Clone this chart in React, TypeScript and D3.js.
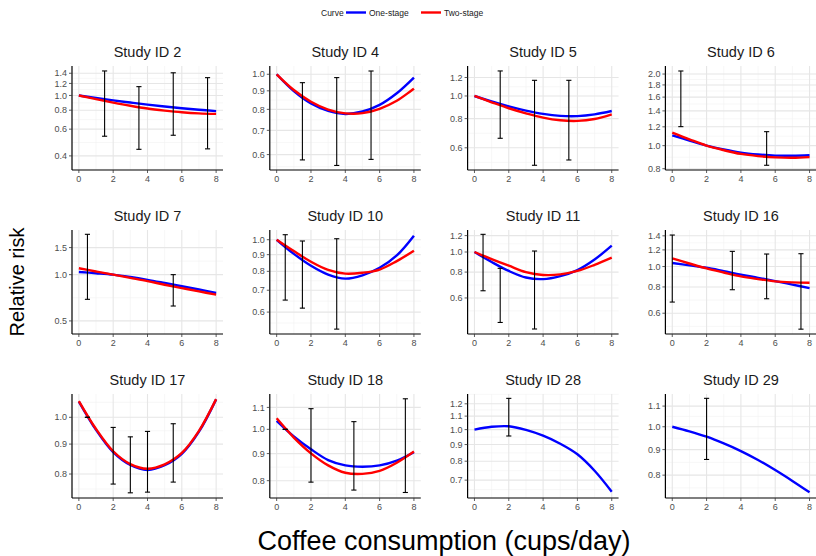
import React from "react";
import * as d3 from "d3";

const studyIds = ["Study ID 2", "Study ID 4", "Study ID 5", "Study ID 6", "Study ID 7", "Study ID 10", "Study ID 11", "Study ID 16", "Study ID 17", "Study ID 18", "Study ID 28", "Study ID 29"];
const doseX = [0, 1, 2, 3, 4, 5, 6, 7, 8];

const oneStageRR: number[][] = [
  [1.0, 0.962, 0.928, 0.898, 0.87, 0.846, 0.824, 0.805, 0.789],
  [1.0, 0.898, 0.83, 0.792, 0.777, 0.789, 0.823, 0.886, 0.979],
  [1.0, 0.948, 0.903, 0.866, 0.838, 0.822, 0.82, 0.834, 0.862],
  [1.105, 1.05, 1.0, 0.964, 0.935, 0.918, 0.908, 0.907, 0.911],
  [1.041, 1.022, 1.0, 0.965, 0.925, 0.882, 0.84, 0.8, 0.76],
  [1.0, 0.905, 0.832, 0.782, 0.76, 0.778, 0.82, 0.895, 1.029],
  [1.0, 0.895, 0.81, 0.753, 0.74, 0.765, 0.818, 0.92, 1.073],
  [1.039, 1.013, 0.987, 0.951, 0.915, 0.884, 0.853, 0.821, 0.79],
  [1.064, 0.952, 0.872, 0.829, 0.813, 0.828, 0.866, 0.945, 1.073],
  [1.038, 0.97, 0.917, 0.875, 0.855, 0.85, 0.855, 0.873, 0.905],
  [1.0, 1.02, 1.024, 0.998, 0.958, 0.905, 0.84, 0.748, 0.645],
  [1.0, 0.979, 0.955, 0.926, 0.894, 0.858, 0.819, 0.779, 0.739],
];

const twoStageRR: number[][] = [
  [1.0, 0.945, 0.897, 0.855, 0.82, 0.795, 0.775, 0.762, 0.756],
  [1.0, 0.905, 0.84, 0.799, 0.78, 0.781, 0.803, 0.845, 0.913],
  [1.0, 0.94, 0.886, 0.843, 0.808, 0.787, 0.782, 0.797, 0.835],
  [1.134, 1.063, 1.0, 0.957, 0.923, 0.904, 0.893, 0.889, 0.895],
  [1.1, 1.049, 1.0, 0.953, 0.908, 0.86, 0.818, 0.778, 0.741],
  [1.0, 0.923, 0.856, 0.808, 0.787, 0.792, 0.81, 0.86, 0.925],
  [1.0, 0.925, 0.859, 0.8, 0.775, 0.78, 0.81, 0.867, 0.939],
  [1.093, 1.034, 0.98, 0.937, 0.898, 0.872, 0.85, 0.841, 0.838],
  [1.066, 0.955, 0.875, 0.832, 0.817, 0.831, 0.869, 0.948, 1.074],
  [1.049, 0.965, 0.901, 0.855, 0.828, 0.824, 0.835, 0.865, 0.908],
  [],
  [],
];

const ciDose: number[][] = [
  [1.5, 3.5, 5.5, 7.5],
  [1.5, 3.5, 5.5],
  [1.5, 3.5, 5.5],
  [0.5, 5.5],
  [0.5, 5.5],
  [0.5, 1.5, 3.5],
  [0.5, 1.5, 3.5],
  [0, 3.5, 5.5, 7.5],
  [0.5, 2, 3, 4, 5.5],
  [0.5, 2, 4.5, 7.5],
  [2],
  [2],
];
const ciLower: number[][] = [
  [0.539, 0.442, 0.547, 0.445],
  [0.58, 0.56, 0.582],
  [0.659, 0.505, 0.532],
  [1.202, 0.827],
  [0.691, 0.625],
  [0.653, 0.617, 0.532],
  [0.65, 0.457, 0.425],
  [0.678, 0.776, 0.703, 0.504],
  [1.0, 0.769, 0.743, 0.745, 0.775],
  [1.0, 0.795, 0.768, 0.76],
  [0.956],
  [0.86],
];
const ciUpper: number[][] = [
  [1.45, 1.143, 1.41, 1.31],
  [0.948, 0.979, 1.021],
  [1.28, 1.167, 1.167],
  [2.06, 1.145],
  [1.83, 1.0],
  [1.036, 0.991, 1.007],
  [1.217, 0.834, 1.011],
  [1.412, 1.181, 1.147, 1.151],
  [1.0, 0.961, 0.926, 0.946, 0.975],
  [1.0, 1.094, 1.034, 1.142],
  [1.247],
  [1.14],
];

const yLimits: [number, number][] = [
  [0.323, 1.563],
  [0.544, 1.054],
  [0.482, 1.344],
  [0.79, 2.162],
  [0.411, 1.952],
  [0.514, 1.071],
  [0.402, 1.277],
  [0.478, 1.492],
  [0.728, 1.096],
  [0.742, 1.166],
  [0.617, 1.286],
  [0.72, 1.163],
];
const yTicks: number[][] = [
  [0.4, 0.6, 0.8, 1.0, 1.2, 1.4],
  [0.6, 0.7, 0.8, 0.9, 1.0],
  [0.6, 0.8, 1.0, 1.2],
  [0.8, 1.0, 1.2, 1.4, 1.6, 1.8, 2.0],
  [0.5, 1.0, 1.5],
  [0.6, 0.7, 0.8, 0.9, 1.0],
  [0.6, 0.8, 1.0, 1.2],
  [0.6, 0.8, 1.0, 1.2, 1.4],
  [0.8, 0.9, 1.0],
  [0.8, 0.9, 1.0, 1.1],
  [0.7, 0.8, 0.9, 1.0, 1.1, 1.2],
  [0.8, 0.9, 1.0, 1.1],
];
const xTicks = [0, 2, 4, 6, 8];
const xMinorTicks = [1, 3, 5, 7];
const legendTitle = "Curve";
const legendLabels = ["One-stage", "Two-stage"];
const curveColors = ["#0000ff", "#ff0000"];
const yTitle = "Relative risk";
const xTitle = "Coffee consumption (cups/day)";

const W = 816;
const H = 556;
const FONT = "'Liberation Sans', Arial, Helvetica, sans-serif";
const panelW = 151;
const panelH = 104;
const colLeft = (c: number) => 72 + c * 197.8;
const rowTop = (r: number) => 66 + r * 164;

function minorBreaks(ticks: number[], lim: [number, number]) {
  const b = ticks.map(Math.log);
  const bd = b[1] - b[0];
  const lo = Math.log(lim[0]);
  const hi = Math.log(lim[1]);
  const ext = [...b];
  if (lo < b[0]) ext.unshift(b[0] - bd);
  if (hi > b[b.length - 1]) ext.push(b[b.length - 1] + bd);
  const out: number[] = [];
  for (let i = 0; i < ext.length - 1; i++) {
    const m = (ext[i] + ext[i + 1]) / 2;
    if (m >= lo && m <= hi) out.push(Math.exp(m));
  }
  return out;
}

function Panel({ i }: { i: number }) {
  const c = i % 4;
  const r = Math.floor(i / 4);
  const left = colLeft(c);
  const top = rowTop(r);
  const x = d3.scaleLinear().domain([-0.4, 8.4]).range([left, left + panelW]);
  const y = d3.scaleLog().domain(yLimits[i]).range([top + panelH, top]);
  const line = d3
    .line<[number, number]>()
    .x((d) => x(d[0]))
    .y((d) => y(d[1]))
    .curve(d3.curveCatmullRom.alpha(0.5));
  const fmt = d3.format(".1f");
  const minors = minorBreaks(yTicks[i], yLimits[i]);
  const series = [oneStageRR[i], twoStageRR[i]];
  const capHalf = 0.15;
  return (
    <g>
      {xMinorTicks.map((t) => (
        <line key={"xm" + t} x1={x(t)} x2={x(t)} y1={top} y2={top + panelH} stroke="#f2f2f2" strokeWidth={0.6} />
      ))}
      {minors.map((t, k) => (
        <line key={"ym" + k} x1={left} x2={left + panelW} y1={y(t)} y2={y(t)} stroke="#f2f2f2" strokeWidth={0.6} />
      ))}
      {xTicks.map((t) => (
        <line key={"xg" + t} x1={x(t)} x2={x(t)} y1={top} y2={top + panelH} stroke="#e6e6e6" strokeWidth={1.1} />
      ))}
      {yTicks[i].map((t) => (
        <line key={"yg" + t} x1={left} x2={left + panelW} y1={y(t)} y2={y(t)} stroke="#e6e6e6" strokeWidth={1.1} />
      ))}
      {series.map((s, k) =>
        s.length ? (
          <path
            key={"c" + k}
            d={line(s.map((v, j) => [doseX[j], v] as [number, number])) || ""}
            fill="none"
            stroke={curveColors[k]}
            strokeWidth={2.4}
          />
        ) : null
      )}
      {ciDose[i].map((d, k) => (
        <g key={"e" + k} stroke="#000" strokeWidth={1.1}>
          <line x1={x(d)} x2={x(d)} y1={y(ciLower[i][k])} y2={y(ciUpper[i][k])} />
          <line x1={x(d - capHalf)} x2={x(d + capHalf)} y1={y(ciLower[i][k])} y2={y(ciLower[i][k])} />
          <line x1={x(d - capHalf)} x2={x(d + capHalf)} y1={y(ciUpper[i][k])} y2={y(ciUpper[i][k])} />
        </g>
      ))}
      <line x1={left} x2={left} y1={top} y2={top + panelH} stroke="#000" strokeWidth={1.2} />
      <line x1={left} x2={left + panelW} y1={top + panelH} y2={top + panelH} stroke="#000" strokeWidth={1.2} />
      {yTicks[i].map((t) => (
        <g key={"yt" + t}>
          <line x1={left - 3} x2={left} y1={y(t)} y2={y(t)} stroke="#333" strokeWidth={0.8} />
          <text x={left - 5} y={y(t)} dy="0.35em" textAnchor="end" fontSize={9} fill="#4d4d4d" fontFamily={FONT}>
            {fmt(t)}
          </text>
        </g>
      ))}
      {xTicks.map((t) => (
        <g key={"xt" + t}>
          <line x1={x(t)} x2={x(t)} y1={top + panelH} y2={top + panelH + 3} stroke="#333" strokeWidth={0.8} />
          <text x={x(t)} y={top + panelH + 11.5} textAnchor="middle" fontSize={9} fill="#4d4d4d" fontFamily={FONT}>
            {t}
          </text>
        </g>
      ))}
      <text x={left + panelW / 2} y={top - 9.5} textAnchor="middle" fontSize={14.5} fill="#1a1a1a" fontFamily={FONT}>
        {studyIds[i]}
      </text>
    </g>
  );
}

export default function App() {
  return (
    <svg width={W} height={H} style={{ position: "absolute", left: 0, top: 0, background: "#fff" }}>
      <rect x={0} y={0} width={W} height={H} fill="#fff" />
      <g fontFamily={FONT} fontSize={8.5} fill="#1a1a1a">
        <text x={321} y={15.5}>{legendTitle}</text>
        <line x1={346} x2={366} y1={12.5} y2={12.5} stroke={curveColors[0]} strokeWidth={2.4} />
        <text x={369} y={15.5}>{legendLabels[0]}</text>
        <line x1={421} x2={441} y1={12.5} y2={12.5} stroke={curveColors[1]} strokeWidth={2.4} />
        <text x={444} y={15.5}>{legendLabels[1]}</text>
      </g>
      {studyIds.map((_, i) => (
        <Panel key={i} i={i} />
      ))}
      <text
        transform={`translate(24,282) rotate(-90)`}
        textAnchor="middle"
        fontSize={20}
        fill="#000"
        fontFamily={FONT}
      >
        {yTitle}
      </text>
      <text x={444} y={550} textAnchor="middle" fontSize={27} fill="#000" fontFamily={FONT}>
        {xTitle}
      </text>
    </svg>
  );
}
